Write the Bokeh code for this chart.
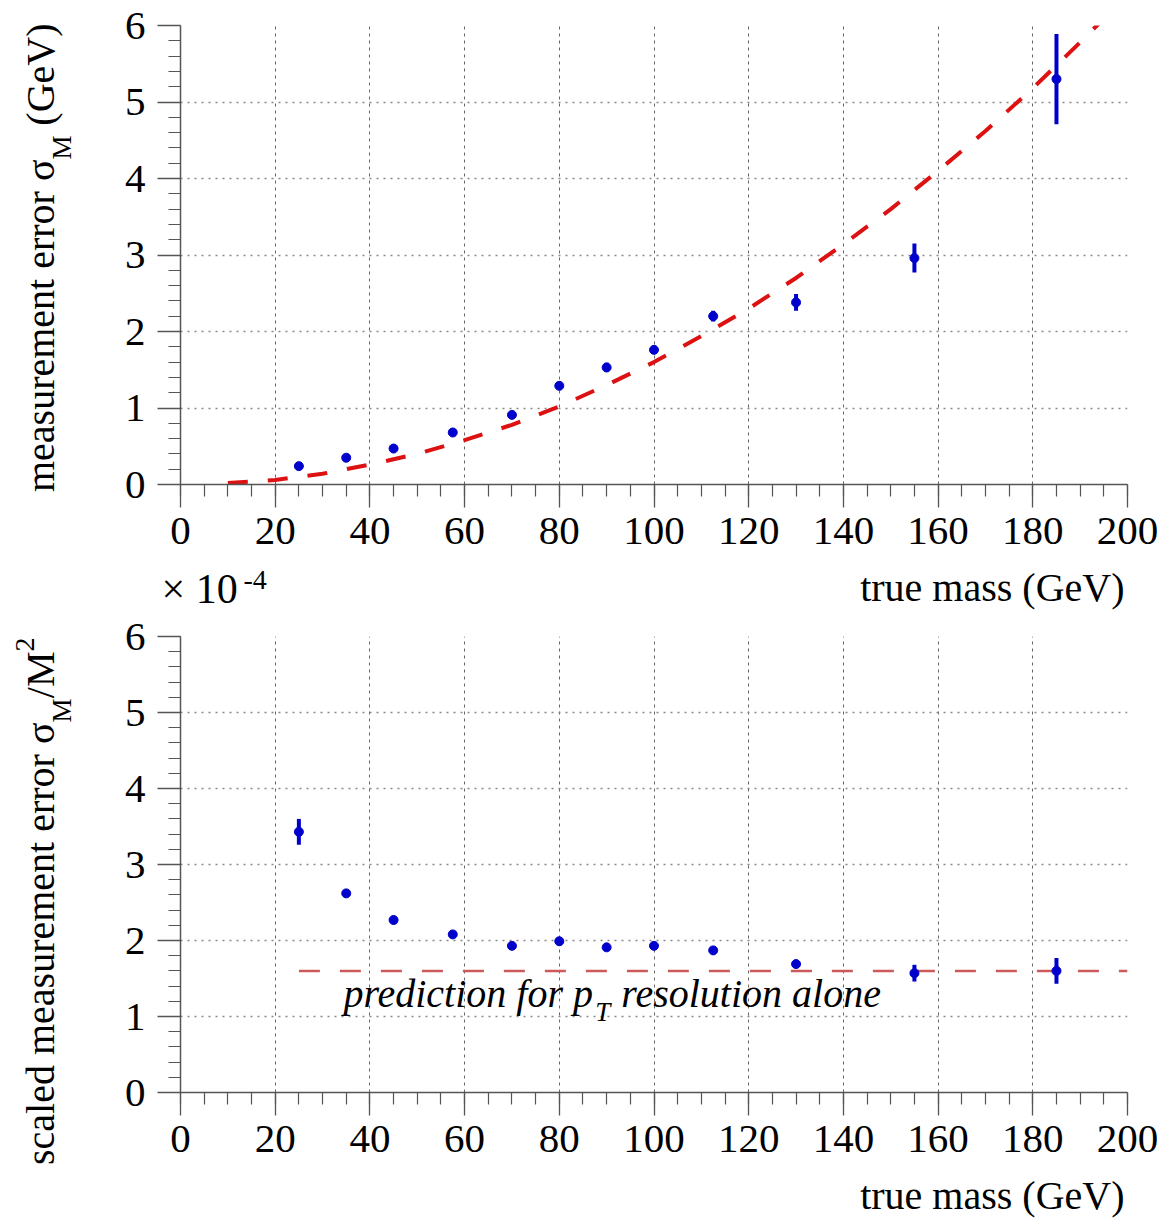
import math
from bokeh.plotting import figure
from bokeh.models import Range1d, FixedTicker, Label
from bokeh.layouts import column, row
from bokeh.embed import file_html
from bokeh.resources import INLINE

# ---------------- data ----------------
mass = [25, 35, 45, 57.5, 70, 80, 90, 100, 112.5, 130, 155, 185]
sigma = [0.24, 0.35, 0.47, 0.68, 0.91, 1.29, 1.53, 1.76, 2.20, 2.38, 2.96, 5.30]
sigma_err = [0.01, 0.01, 0.02, 0.02, 0.03, 0.03, 0.06, 0.03, 0.07, 0.11, 0.19, 0.59]

scaled = [3.43, 2.62, 2.27, 2.08, 1.93, 1.99, 1.91, 1.93, 1.87, 1.69, 1.57, 1.60]
scaled_err = [0.17, 0.05, 0.02, 0.02, 0.02, 0.02, 0.02, 0.02, 0.03, 0.05, 0.11, 0.17]

curve_x = [10, 20, 30, 40, 50, 60, 70, 80, 90, 100, 110, 120, 130, 140, 150, 160, 170, 180, 190, 200]
curve_y = [0.02, 0.06, 0.14, 0.26, 0.40, 0.58, 0.78, 1.02, 1.30, 1.60, 1.94, 2.30, 2.70, 3.14, 3.60,
           4.10, 4.62, 5.18, 5.78, 6.40]

pred_x = [25, 200]
pred_y = [1.6, 1.6]

x_ticks = [0, 20, 40, 60, 80, 100, 120, 140, 160, 180, 200]
x_minor = list(range(0, 201, 5))
y_ticks = [0, 1, 2, 3, 4, 5, 6]
y_minor = [round(i * 0.2, 1) for i in range(31)]

SERIF = "Liberation Serif"
BLUE = "#0000cc"
AX = "#555555"
ROT = math.pi / 2
BASE = 0.3  # Label "alphabetic" anchor sits this many em above the drawn baseline


def make_fig(height, top, bottom):
    p = figure(width=1047, height=height,
               x_range=Range1d(0, 200), y_range=Range1d(0, 6),
               min_border_left=60, min_border_right=40,
               min_border_top=top, min_border_bottom=bottom,
               frame_align=False,
               output_backend="svg", toolbar_location=None)
    p.outline_line_color = None
    p.background_fill_color = "white"
    p.border_fill_color = "white"
    p.xaxis.ticker = FixedTicker(ticks=x_ticks, minor_ticks=x_minor)
    p.yaxis.ticker = FixedTicker(ticks=y_ticks, minor_ticks=y_minor)
    for ax in (p.xaxis[0], p.yaxis[0]):
        ax.major_tick_in = 0
        ax.major_tick_out = 23
        ax.minor_tick_in = 0
        ax.minor_tick_out = 12
        ax.axis_line_color = AX
        ax.axis_line_width = 1.5
        ax.major_tick_line_color = AX
        ax.major_tick_line_width = 1.3
        ax.minor_tick_line_color = AX
        ax.minor_tick_line_width = 1.2
        ax.major_label_text_font = SERIF
        ax.major_label_text_font_size = "41px"
        ax.major_label_text_color = "black"
    p.xaxis.major_label_standoff = 10
    p.yaxis.major_label_standoff = 12
    p.xgrid.grid_line_color = "#666666"
    p.xgrid.grid_line_dash = "3 4"
    p.xgrid.grid_line_width = 1
    p.ygrid.grid_line_color = "#888888"
    p.ygrid.grid_line_dash = "2 5"
    p.ygrid.grid_line_width = 1.3
    return p


def strip(w, h):
    # text-only canvas whose frame is the whole canvas; units are pixels from its top-left
    f = figure(width=w, height=h, x_range=Range1d(0, w), y_range=Range1d(h, 0),
               x_axis_type=None, y_axis_type=None, min_border=0,
               frame_align=False,
               output_backend="svg", toolbar_location=None)
    f.outline_line_color = None
    f.background_fill_color = "white"
    f.border_fill_color = "white"
    return f


def htext(p, x, y_base, text, size, align="left", style="normal", ydown=True, yscale=1.0):
    # horizontal text; y_base is the wanted baseline (strip pixels if ydown, else data units)
    shift = BASE * size
    y = y_base - shift if ydown else y_base + shift / yscale
    p.add_layout(Label(x=x, y=y, text=text, text_font=SERIF,
                       text_font_size=f"{size}px", text_align=align,
                       text_baseline="alphabetic", text_font_style=style,
                       text_color="black"))


def vtext(p, x_base, y_end, text, size):
    # text rotated to read upward, its end at y_end, baseline at screen x x_base
    p.add_layout(Label(x=x_base - BASE * size, y=y_end, text=text, text_font=SERIF,
                       text_font_size=f"{size}px", text_align="right",
                       text_baseline="alphabetic", angle=ROT, text_color="black"))


# ---------------- top panel (canvas rows 0-563) ----------------
p1 = make_fig(563, 25, 79)
p1.line(curve_x, curve_y, line_color="#dd1111", line_width=4, line_dash="20 20")
p1.segment(x0=mass, y0=[v - e for v, e in zip(sigma, sigma_err)],
           x1=mass, y1=[v + e for v, e in zip(sigma, sigma_err)],
           line_color=BLUE, line_width=4)
p1.scatter(mass, sigma, size=9, color=BLUE)

L1 = strip(120, 563)
vtext(L1, 52, 159, "measurement error σ", 40)
vtext(L1, 70, 135, "M", 27)
vtext(L1, 52, 23, "(GeV)", 40)

# ---------------- band between the panels (rows 563-611) ----------------
B1 = strip(1167, 48)
htext(B1, 1124, 36, "true mass (GeV)", 40, align="right")
htext(B1, 161, 38, "× 10", 42)
htext(B1, 243, 25, "-4", 28)

# ---------------- bottom panel (rows 611-1171) ----------------
p2 = make_fig(560, 25, 79)
p2.line(pred_x, pred_y, line_color="#cc5a5a", line_width=2.5, line_dash="21 20")
p2.segment(x0=mass, y0=[v - e for v, e in zip(scaled, scaled_err)],
           x1=mass, y1=[v + e for v, e in zip(scaled, scaled_err)],
           line_color=BLUE, line_width=4)
p2.scatter(mass, scaled, size=9, color=BLUE)

YS = 76.0  # pixels per y unit in the lower panel
htext(p2, 34.4, 1.145, "prediction for p", 40, style="italic", ydown=False, yscale=YS)
htext(p2, 87.6, 0.947, "T", 27, style="italic", ydown=False, yscale=YS)
htext(p2, 93.1, 1.145, "resolution alone", 40, style="italic", ydown=False, yscale=YS)

L2 = strip(120, 560)
vtext(L2, 52, 111, "scaled measurement error σ", 40)
vtext(L2, 70, 87, "M", 27)
vtext(L2, 52, 40, "/M", 40)
vtext(L2, 33, 26, "2", 28)

# ---------------- bottom band (rows 1171-1218) ----------------
B2 = strip(1167, 47)
htext(B2, 1124, 36, "true mass (GeV)", 40, align="right")

layout = column(row(L1, p1, spacing=0), B1, row(L2, p2, spacing=0), B2, spacing=0)
open("out.html", "w").write(file_html(layout, INLINE))
